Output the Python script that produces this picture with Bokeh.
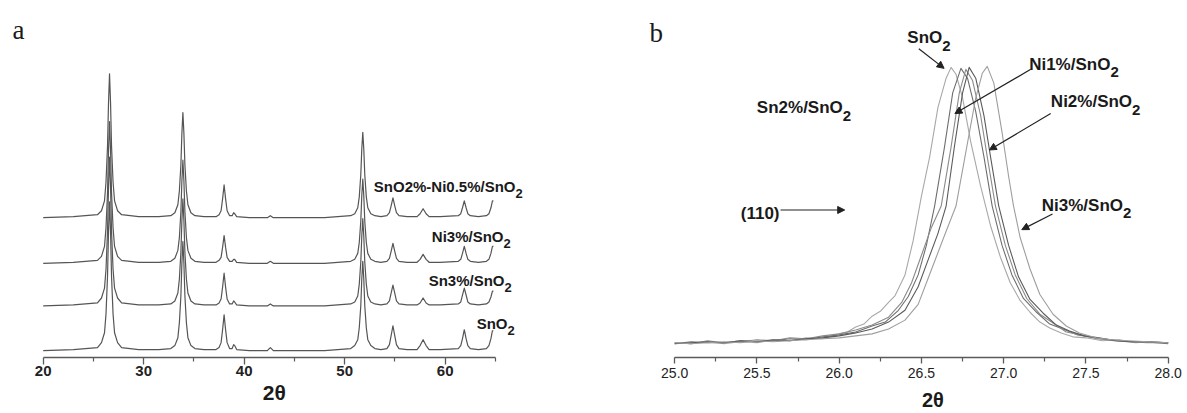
from bokeh.plotting import figure
from bokeh.models import (Range1d, FixedTicker, PrintfTickFormatter, Label, Arrow, NormalHead,
                          LinearAxis)
from bokeh.layouts import row
from bokeh.embed import file_html
from bokeh.resources import INLINE

# ---------------- Panel a: full XRD patterns (intensity above each baseline, a.u.)
a_two_theta = [20.0, 23.0,
               25.4, 25.8, 26.1, 26.25, 26.4, 26.5, 26.6, 26.7, 26.8, 26.95, 27.1, 27.4, 27.8,
               29.5, 31.5,
               32.7, 33.1, 33.4, 33.55, 33.7, 33.8, 33.9, 34.0, 34.1, 34.25, 34.4, 34.7, 35.1,
               36.0,
               37.2, 37.5, 37.7, 37.85, 38.0, 38.15, 38.3, 38.55,
               38.8, 38.95, 39.05, 39.25,
               40.5,
               42.3, 42.6, 42.9,
               44.5, 48.0,
               50.6, 51.0, 51.3, 51.45, 51.6, 51.7, 51.8, 51.9, 52.0, 52.15, 52.3, 52.6, 53.0,
               53.6,
               54.2, 54.45, 54.62, 54.8, 54.98, 55.15, 55.4,
               56.2,
               57.2, 57.5, 57.8, 58.1, 58.4,
               59.5,
               61.3, 61.55, 61.72, 61.9, 62.08, 62.25, 62.5,
               63.3,
               64.1, 64.35, 64.55, 64.7, 64.8]
a_sno2 = [0, 1,
          3, 8, 18, 37, 75, 120, 150, 120, 75, 37, 18, 8, 3,
          1, 1,
          2, 5, 13, 28, 55, 88, 110, 88, 55, 28, 13, 5, 2,
          1,
          1, 3, 8, 21, 36, 21, 8, 2,
          2, 6, 5, 1,
          0,
          0, 3, 0,
          0, 0,
          2, 5, 11, 23, 45, 72, 90, 72, 45, 23, 11, 5, 2,
          1,
          2, 6, 15, 25, 15, 6, 2,
          1,
          1, 5, 11, 5, 1,
          1,
          2, 5, 12, 21, 12, 5, 2,
          1,
          2, 5, 12, 20, 20]
a_sn3 = [0, 1,
         3, 8, 18, 37, 75, 120, 150, 120, 75, 37, 18, 8, 3,
         1, 1,
         2, 5, 13, 27, 54, 86, 108, 86, 54, 27, 13, 5, 2,
         1,
         1, 3, 7, 19, 33, 19, 7, 2,
         2, 5, 4, 1,
         0,
         0, 2, 0,
         0, 0,
         2, 4, 10, 22, 44, 70, 88, 70, 44, 22, 10, 4, 2,
         1,
         2, 5, 13, 21, 13, 5, 2,
         1,
         1, 3, 8, 3, 1,
         1,
         2, 4, 11, 18, 11, 4, 2,
         1,
         2, 4, 9, 15, 15]
a_ni3 = [0, 1,
         3, 7, 17, 36, 71, 114, 143, 114, 71, 36, 17, 7, 3,
         1, 1,
         2, 5, 13, 26, 52, 83, 104, 83, 52, 26, 13, 5, 2,
         1,
         1, 3, 6, 16, 28, 16, 6, 2,
         2, 4, 4, 1,
         0,
         0, 2, 0,
         0, 0,
         2, 4, 10, 21, 42, 68, 85, 68, 42, 21, 10, 4, 2,
         1,
         2, 5, 12, 20, 12, 5, 2,
         1,
         1, 4, 9, 4, 1,
         1,
         2, 4, 10, 17, 10, 4, 2,
         1,
         2, 4, 10, 17, 17]
a_sn2ni05 = [0, 1,
             3, 7, 17, 36, 72, 116, 145, 116, 72, 36, 17, 7, 3,
             1, 1,
             2, 5, 13, 27, 53, 85, 106, 85, 53, 27, 13, 5, 2,
             1,
             1, 3, 7, 19, 33, 19, 7, 2,
             2, 5, 4, 1,
             0,
             0, 2, 0,
             0, 0,
             2, 4, 10, 21, 43, 69, 86, 69, 43, 21, 10, 4, 2,
             1,
             2, 5, 12, 20, 12, 5, 2,
             1,
             1, 4, 9, 4, 1,
             1,
             2, 4, 10, 17, 10, 4, 2,
             1,
             2, 4, 10, 17, 17]
a_series = [a_sno2, a_sn3, a_ni3, a_sn2ni05]
a_labels = ["SnO", "Sn3%/SnO", "Ni3%/SnO", "SnO2%-Ni0.5%/SnO"]
a_major_ticks = [20, 30, 40, 50, 60]
a_minor_ticks = [25, 35, 45, 55, 65]

# ---------------- Panel b: (110) reflection
b_sno2_x = [25.00, 25.10, 25.20, 25.30, 25.40, 25.50, 25.60, 25.70, 25.80, 25.90,
            26.00, 26.05, 26.10, 26.15, 26.20, 26.25, 26.30, 26.34,
            26.40, 26.45, 26.50, 26.55, 26.60, 26.65, 26.68,
            26.71, 26.75, 26.80, 26.86, 26.92, 26.98,
            27.04, 27.10, 27.16, 27.22, 27.28, 27.35, 27.42, 27.50,
            27.60, 27.70, 27.80, 27.90, 28.00]
b_sno2_y = [1, 0, 2, 0, 2, 1, 4, 3, 6, 5,
            10, 12, 17, 20, 28, 33, 42, 49,
            70, 105, 150, 190, 240, 270, 281,
            274, 250, 205, 160, 120, 88,
            62, 44, 32, 22, 16, 11, 7, 6,
            3, 4, 1, 2, 1]
b_sn2_x = [25.00, 25.10, 25.20, 25.30, 25.40, 25.50, 25.60, 25.70, 25.80, 25.90,
           26.00, 26.10, 26.20, 26.28,
           26.36, 26.42, 26.48, 26.53, 26.58,
           26.64, 26.69, 26.74, 26.78, 26.83, 26.88, 26.93,
           26.99, 27.05, 27.12, 27.20, 27.28, 27.36, 27.45, 27.55, 27.65, 27.75, 27.85, 28.00]
b_sn2_y = [0, 2, 1, 1, 3, 2, 3, 5, 4, 7,
           9, 12, 18, 22,
           34, 48, 70, 100, 140,
           200, 255, 280, 270, 236, 190, 140,
           100, 70, 46, 32, 20, 15, 9, 6, 4, 2, 2, 0]
b_ni1_x = [25.00, 25.10, 25.20, 25.30, 25.40, 25.50, 25.60, 25.70, 25.80, 25.90,
           26.00, 26.10, 26.20, 26.30,
           26.38, 26.44, 26.50, 26.56, 26.62,
           26.68, 26.73, 26.77, 26.81, 26.86, 26.90, 26.95,
           27.01, 27.07, 27.14, 27.22, 27.30, 27.38, 27.47, 27.57, 27.67, 27.77, 27.87, 28.00]
b_ni1_y = [1, 0, 3, 1, 2, 4, 3, 6, 5, 8,
           10, 14, 19, 27,
           42, 62, 90, 118, 140,
           200, 255, 279, 268, 232, 190, 140,
           100, 70, 46, 30, 21, 12, 9, 5, 3, 2, 1, 1]
b_ni2_x = [25.00, 25.10, 25.20, 25.30, 25.40, 25.50, 25.60, 25.70, 25.80, 25.90,
           26.00, 26.10, 26.20, 26.30,
           26.40, 26.48, 26.54, 26.60, 26.65,
           26.70, 26.75, 26.79, 26.83, 26.88, 26.92, 26.97,
           27.03, 27.09, 27.16, 27.24, 27.32, 27.40, 27.49, 27.58, 27.68, 27.78, 27.88, 28.00]
b_ni2_y = [0, 1, 2, 1, 3, 2, 4, 3, 5, 6,
           8, 11, 15, 22,
           34, 58, 85, 112, 140,
           200, 255, 281, 270, 232, 190, 140,
           100, 68, 45, 31, 19, 13, 8, 6, 3, 2, 2, 1]
b_ni3_x = [25.00, 25.10, 25.20, 25.30, 25.40, 25.50, 25.60, 25.70, 25.80, 25.90,
           26.00, 26.10, 26.20, 26.30,
           26.40, 26.48, 26.56, 26.64, 26.71,
           26.77, 26.83, 26.87, 26.90, 26.94, 26.99, 27.03,
           27.06, 27.10, 27.16, 27.22, 27.30, 27.38, 27.46, 27.56, 27.66, 27.76, 27.88, 28.00]
b_ni3_y = [1, 0, 1, 2, 1, 3, 2, 3, 4, 5,
           6, 8, 10, 15,
           24, 40, 75, 110, 140,
           195, 250, 275, 282, 265, 215, 170,
           140, 108, 76, 50, 30, 18, 11, 6, 4, 3, 2, 1]
b_curves = [(b_sno2_x, b_sno2_y, "#a8a8a8"), (b_sn2_x, b_sn2_y, "#6e6e6e"),
            (b_ni1_x, b_ni1_y, "#8a8a8a"), (b_ni2_x, b_ni2_y, "#5a5a5a"),
            (b_ni3_x, b_ni3_y, "#9e9e9e")]
b_major_ticks = [25.0, 25.5, 26.0, 26.5, 27.0, 27.5, 28.0]
b_minor_ticks = [25.25, 25.75, 26.25, 26.75, 27.25, 27.75]

TXT = "#1a1a1a"
SANS = "Liberation Sans"
SERIF = "Liberation Serif"
H = 413


def base_fig(width, x0, x1, ytop, bottom):
    p = figure(width=width, height=H, x_range=Range1d(x0, x1), y_range=Range1d(0, ytop),
               output_backend="svg", toolbar_location=None, y_axis_location=None,
               min_border_left=0, min_border_right=0, min_border_top=0,
               min_border_bottom=bottom)
    p.outline_line_color = None
    p.xgrid.visible = False
    p.ygrid.visible = False
    ax = p.xaxis[0]
    ax.axis_line_color = "#5a5a5a"
    ax.axis_line_width = 1.5
    ax.major_tick_line_color = "#5a5a5a"
    ax.minor_tick_line_color = "#5a5a5a"
    ax.major_tick_line_width = 1.3
    ax.minor_tick_line_width = 1.2
    ax.major_tick_in = 0
    ax.minor_tick_in = 0
    ax.major_label_text_color = "#222222"
    ax.major_label_text_font = SANS
    return p


def title_axis(p, xc, size, standoff, line_height=1.2):
    # second, line-less axis carrying the "2θ" title at its own data position
    t = LinearAxis(ticker=FixedTicker(ticks=[xc], minor_ticks=[]),
                   major_label_overrides={xc: "2θ"})
    t.axis_line_color = None
    t.major_tick_line_color = None
    t.minor_tick_line_color = None
    t.major_tick_out = 0
    t.major_tick_in = 0
    t.minor_tick_out = 0
    t.minor_tick_in = 0
    t.major_label_standoff = standoff
    t.major_label_text_font = SANS
    t.major_label_text_font_style = "bold"
    t.major_label_text_font_size = size
    t.major_label_text_color = TXT
    t.major_label_text_line_height = line_height
    p.add_layout(t, "below")


def lab(p, x, y, text, size="15px", style="bold", align="right", font=SANS):
    p.add_layout(Label(x=x, y=y, text=text, text_font=font, text_font_size=size,
                       text_font_style=style, text_align=align, text_baseline="alphabetic",
                       text_color=TXT))


def chem(p, x, y, text, size="15px", sub="13px", drop=7):
    lab(p, x, y, text, size=size)
    lab(p, x, y - drop, "2", size=sub, align="left")


# ---------------- figure a  (frame: x 0..600 px, y 0..360 px; 10.05 px per degree)
pa = base_fig(600, 15.7512, 75.4527, 360, 53)
a_offsets = [7, 52, 95, 141]
for ys, off in zip(a_series, a_offsets):
    pa.line(a_two_theta, [v + off for v in ys], line_color="#555555", line_width=1.2,
            line_join="round")
axa = pa.xaxis[0]
axa.bounds = (20, 65)
axa.ticker = FixedTicker(ticks=a_major_ticks, minor_ticks=a_minor_ticks)
axa.major_tick_out = 7
axa.minor_tick_out = 4
axa.major_label_standoff = 1
axa.major_label_text_font_size = "15px"
axa.major_label_text_font_style = "bold"
title_axis(pa, 43.0, "21px", 2)

chem(pa, 66.995, 172, a_labels[3])
chem(pa, 65.801, 122, a_labels[2])
chem(pa, 65.900, 78, a_labels[1])
chem(pa, 66.199, 34, a_labels[0])
lab(pa, 16.945, 330, "a", size="27px", style="normal", align="left", font=SERIF)

# ---------------- figure b  (frame: x 600..1187 px, y 0..363 px; 164.5 px per degree)
pb = base_fig(587, 24.54894, 28.11733, 363, 50)
for xs, ys, col in b_curves:
    pb.line(xs, [v + 14 for v in ys], line_color=col, line_width=1.1, line_join="round")
axb = pb.xaxis[0]
axb.bounds = (25, 28)
axb.ticker = FixedTicker(ticks=b_major_ticks, minor_ticks=b_minor_ticks)
axb.formatter = PrintfTickFormatter(format="%.1f")
axb.major_tick_out = 6
axb.minor_tick_out = 4
axb.major_label_standoff = 4
axb.major_label_text_font_size = "14px"
axb.major_label_text_font_style = "normal"
title_axis(pb, 26.57, "20px", 8, line_height=0.7)

lab(pb, 24.8468, 330, "b", size="27px", style="normal", align="left", font=SERIF)
chem(pb, 26.6267, 325, "SnO", size="17px", sub="15px", drop=8)
chem(pb, 27.6486, 298, "Ni1%/SnO", size="17px", sub="15px", drop=8)
chem(pb, 27.7805, 260, "Ni2%/SnO", size="17px", sub="15px", drop=8)
chem(pb, 26.0219, 254, "Sn2%/SnO", size="17px", sub="15px", drop=8)
chem(pb, 27.7252, 155, "Ni3%/SnO", size="17px", sub="15px", drop=8)
lab(pb, 25.6371, 146, "(110)", size="17px")

arrows = [((26.4839, 314), (26.6377, 294)),
          ((27.1647, 293), (26.7033, 248)),
          ((27.2857, 248), (26.9125, 211)),
          ((27.2967, 146), (27.1100, 130)),
          ((25.6432, 150), (26.0334, 150))]
for (xs_, ys_), (xe, ye) in arrows:
    pb.add_layout(Arrow(end=NormalHead(size=7, fill_color="#222222", line_color="#222222",
                                       line_width=1),
                        x_start=xs_, y_start=ys_, x_end=xe, y_end=ye,
                        line_color="#222222", line_width=1.2))

layout = row(pa, pb)
open("out.html", "w").write(file_html(layout, INLINE))
